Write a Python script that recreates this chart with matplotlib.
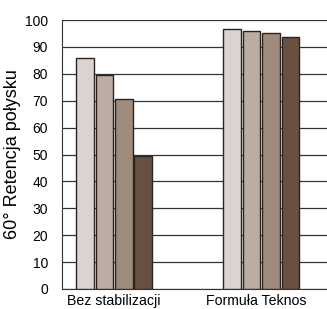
import numpy as np
import matplotlib.pyplot as plt

plt.rcParams['font.family'] = ['Liberation Sans', 'DejaVu Sans']

groups = ["Bez stabilizacji", "Formuła Teknos"]
series_1 = [86.0, 96.5]
series_2 = [79.7, 95.8]
series_3 = [70.8, 95.0]
series_4 = [49.5, 93.5]
colors = ["#dbd3cf", "#bdaca1", "#9f8b7c", "#6a5040"]
yticks = list(range(0, 101, 10))

fig = plt.figure(figsize=(3.27, 3.09), dpi=100)
ax = fig.add_axes([62 / 327, 1 - 289 / 309, 1 - 62 / 327, 269 / 309])

centers = np.array([0.0, 7.55])
offsets = [-1.5, -0.5, 0.5, 1.5]
for vals, off, c in zip([series_1, series_2, series_3, series_4], offsets, colors):
    ax.bar(centers + off, vals, width=0.9, color=c, edgecolor="#2a2420",
           linewidth=1.0, zorder=3)

ax.set_ylim(0, 100)
ax.set_xlim(-2.67, 10.93)
ax.set_yticks(yticks)
ax.yaxis.grid(True, color="#333333", linewidth=0.9, zorder=0)
ax.set_xticks(centers + np.array([0.0, -0.25]))
ax.set_xticklabels(groups, fontsize=10.2)
ax.tick_params(axis="x", length=0, pad=3.5)
ax.tick_params(axis="y", length=0, pad=10, labelsize=10)
for s in ["top", "right"]:
    ax.spines[s].set_visible(False)
ax.spines["left"].set_color("#333333")
ax.spines["bottom"].set_color("#333333")
ax.set_ylabel("60° Retencja połysku", fontsize=13, labelpad=3)

fig.savefig("out.png", dpi=100)
